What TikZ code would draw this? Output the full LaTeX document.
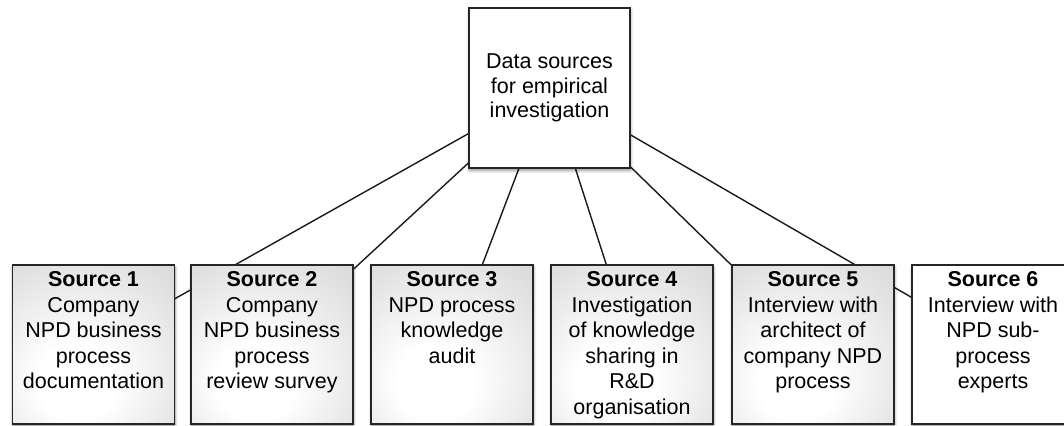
\documentclass[tikz,border=0pt]{standalone}
\usepackage{fontspec}
\setmainfont{Liberation Sans}
\usetikzlibrary{shadows,shadows.blur,backgrounds}
\pgfdeclareradialshading{softbox}{\pgfpoint{-6bp}{-14bp}}{%
  color(0bp)=(white); color(12bp)=(white); color(40bp)=(black!14);
  color(60bp)=(black!24); color(80bp)=(black!28)}
\newcommand{\srctext}[2]{\parbox[t][146bp][t]{154bp}{\centering\textbf{#1}\\#2}}
\tikzset{
  boxbase/.style={draw=black!85, line width=1.4bp,
    blur shadow={shadow blur steps=6, shadow xshift=0.5bp, shadow yshift=-2.5bp, shadow opacity=45, shadow blur radius=3bp},
    font=\fontsize{21.5bp}{25.5bp}\selectfont},
  srcbox/.style={boxbase, shading=softbox,
    inner xsep=4bp, inner ysep=6.5bp},
  plainsrc/.style={boxbase, fill=white, inner xsep=4bp, inner ysep=6.5bp},
  topbox/.style={boxbase, fill=white, minimum width=161bp, minimum height=160bp,
    align=center, font=\fontsize{21.5bp}{24.5bp}\selectfont},
  link/.style={draw=black!90, line width=1.4bp}
}
\begin{document}
\begin{tikzpicture}[x=1bp,y=-1bp]
\useasboundingbox (0,0) rectangle (1064,425);
\node[topbox] (top) at (549.5,88) {Data sources\\for empirical\\investigation};
\node[srcbox] (b1) at (93.5,344.5) {\srctext{Source 1}{Company\\NPD business\\process\\documentation}};
\node[srcbox] (b2) at (272,344.5) {\srctext{Source 2}{Company\\NPD business\\process\\review survey}};
\node[srcbox] (b3) at (452,344.5) {\srctext{Source 3}{NPD process\\knowledge\\audit}};
\node[srcbox] (b4) at (632,344.5) {\srctext{Source 4}{Investigation\\of knowledge\\sharing in\\R\&D\\organisation}};
\node[srcbox] (b5) at (813,344.5) {\srctext{Source 5}{Interview with\\architect of\\company NPD\\process}};
\node[plainsrc] (b6) at (993,344.5) {\srctext{Source 6}{Interview with\\NPD sub-\\process\\experts}};
\begin{scope}[on background layer]
\foreach \b in {b1,b2,b3,b4,b5,b6}
  \draw[link] (top.center) -- (\b.center);
\end{scope}
\end{tikzpicture}
\end{document}
